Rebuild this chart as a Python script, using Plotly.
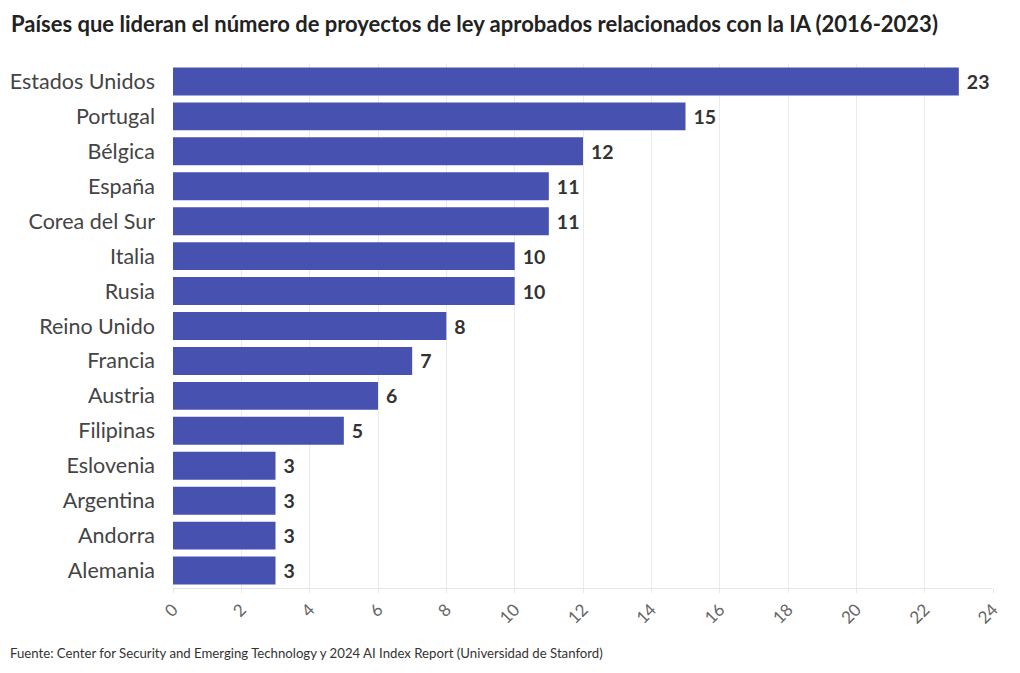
import plotly.graph_objects as go

countries = ["Estados Unidos", "Portugal", "Bélgica", "España", "Corea del Sur", "Italia", "Rusia",
             "Reino Unido", "Francia", "Austria", "Filipinas", "Eslovenia", "Argentina", "Andorra", "Alemania"]
values = [23, 15, 12, 11, 11, 10, 10, 8, 7, 6, 5, 3, 3, 3, 3]
tick_vals = list(range(0, 25, 2))

FONT = "Lato"
L, R, T, B = 165, 35, 55.5, 93
PW, PH = 1020 - L - R, 673 - T - B

fig = go.Figure(go.Bar(
    x=values, y=countries, orientation="h",
    marker=dict(color="#4752B0", line=dict(width=0)),
    text=[f"\u00a0<b>{v}</b>" for v in values], textposition="outside",
    textfont=dict(size=19.5, color="#333333", family=FONT),
    cliponaxis=False,
))

fig.update_layout(
    width=1020, height=673,
    margin=dict(l=L, r=R, t=T, b=B, autoexpand=False),
    paper_bgcolor="white", plot_bgcolor="white",
    bargap=0.2,
    showlegend=False,
    title=dict(text="<b>Países que lideran el número de proyectos de ley aprobados relacionados con la IA (2016-2023)</b>",
               x=3 / 1020, xanchor="left", y=1 - 16 / 673, yanchor="middle",
               font=dict(size=22, color="#222222", family=FONT)),
    font=dict(family=FONT),
)
fig.update_yaxes(autorange="reversed", tickfont=dict(size=21.5, color="#444444", family=FONT),
                 ticks="", ticklabelstandoff=17, showgrid=False, automargin=False)
fig.update_xaxes(range=[0, 24], tickvals=tick_vals, tickangle=-45, automargin=False,
                 tickfont=dict(size=17, color="#666666", family=FONT),
                 showgrid=True, gridcolor="#ebebeb", gridwidth=1,
                 showline=True, linecolor="#e6e6e6", zeroline=False,
                 ticks="outside", ticklen=4, tickcolor="#e6e6e6")
fig.add_annotation(text="Fuente: Center for Security and Emerging Technology y 2024 AI Index Report (Universidad de Stanford)",
                   xref="paper", yref="paper", x=-L / PW, y=-(645 - (673 - B)) / PH,
                   xanchor="left", yanchor="middle",
                   showarrow=False, font=dict(size=13.2, color="#333333", family=FONT))

fig.write_html("out.html")
